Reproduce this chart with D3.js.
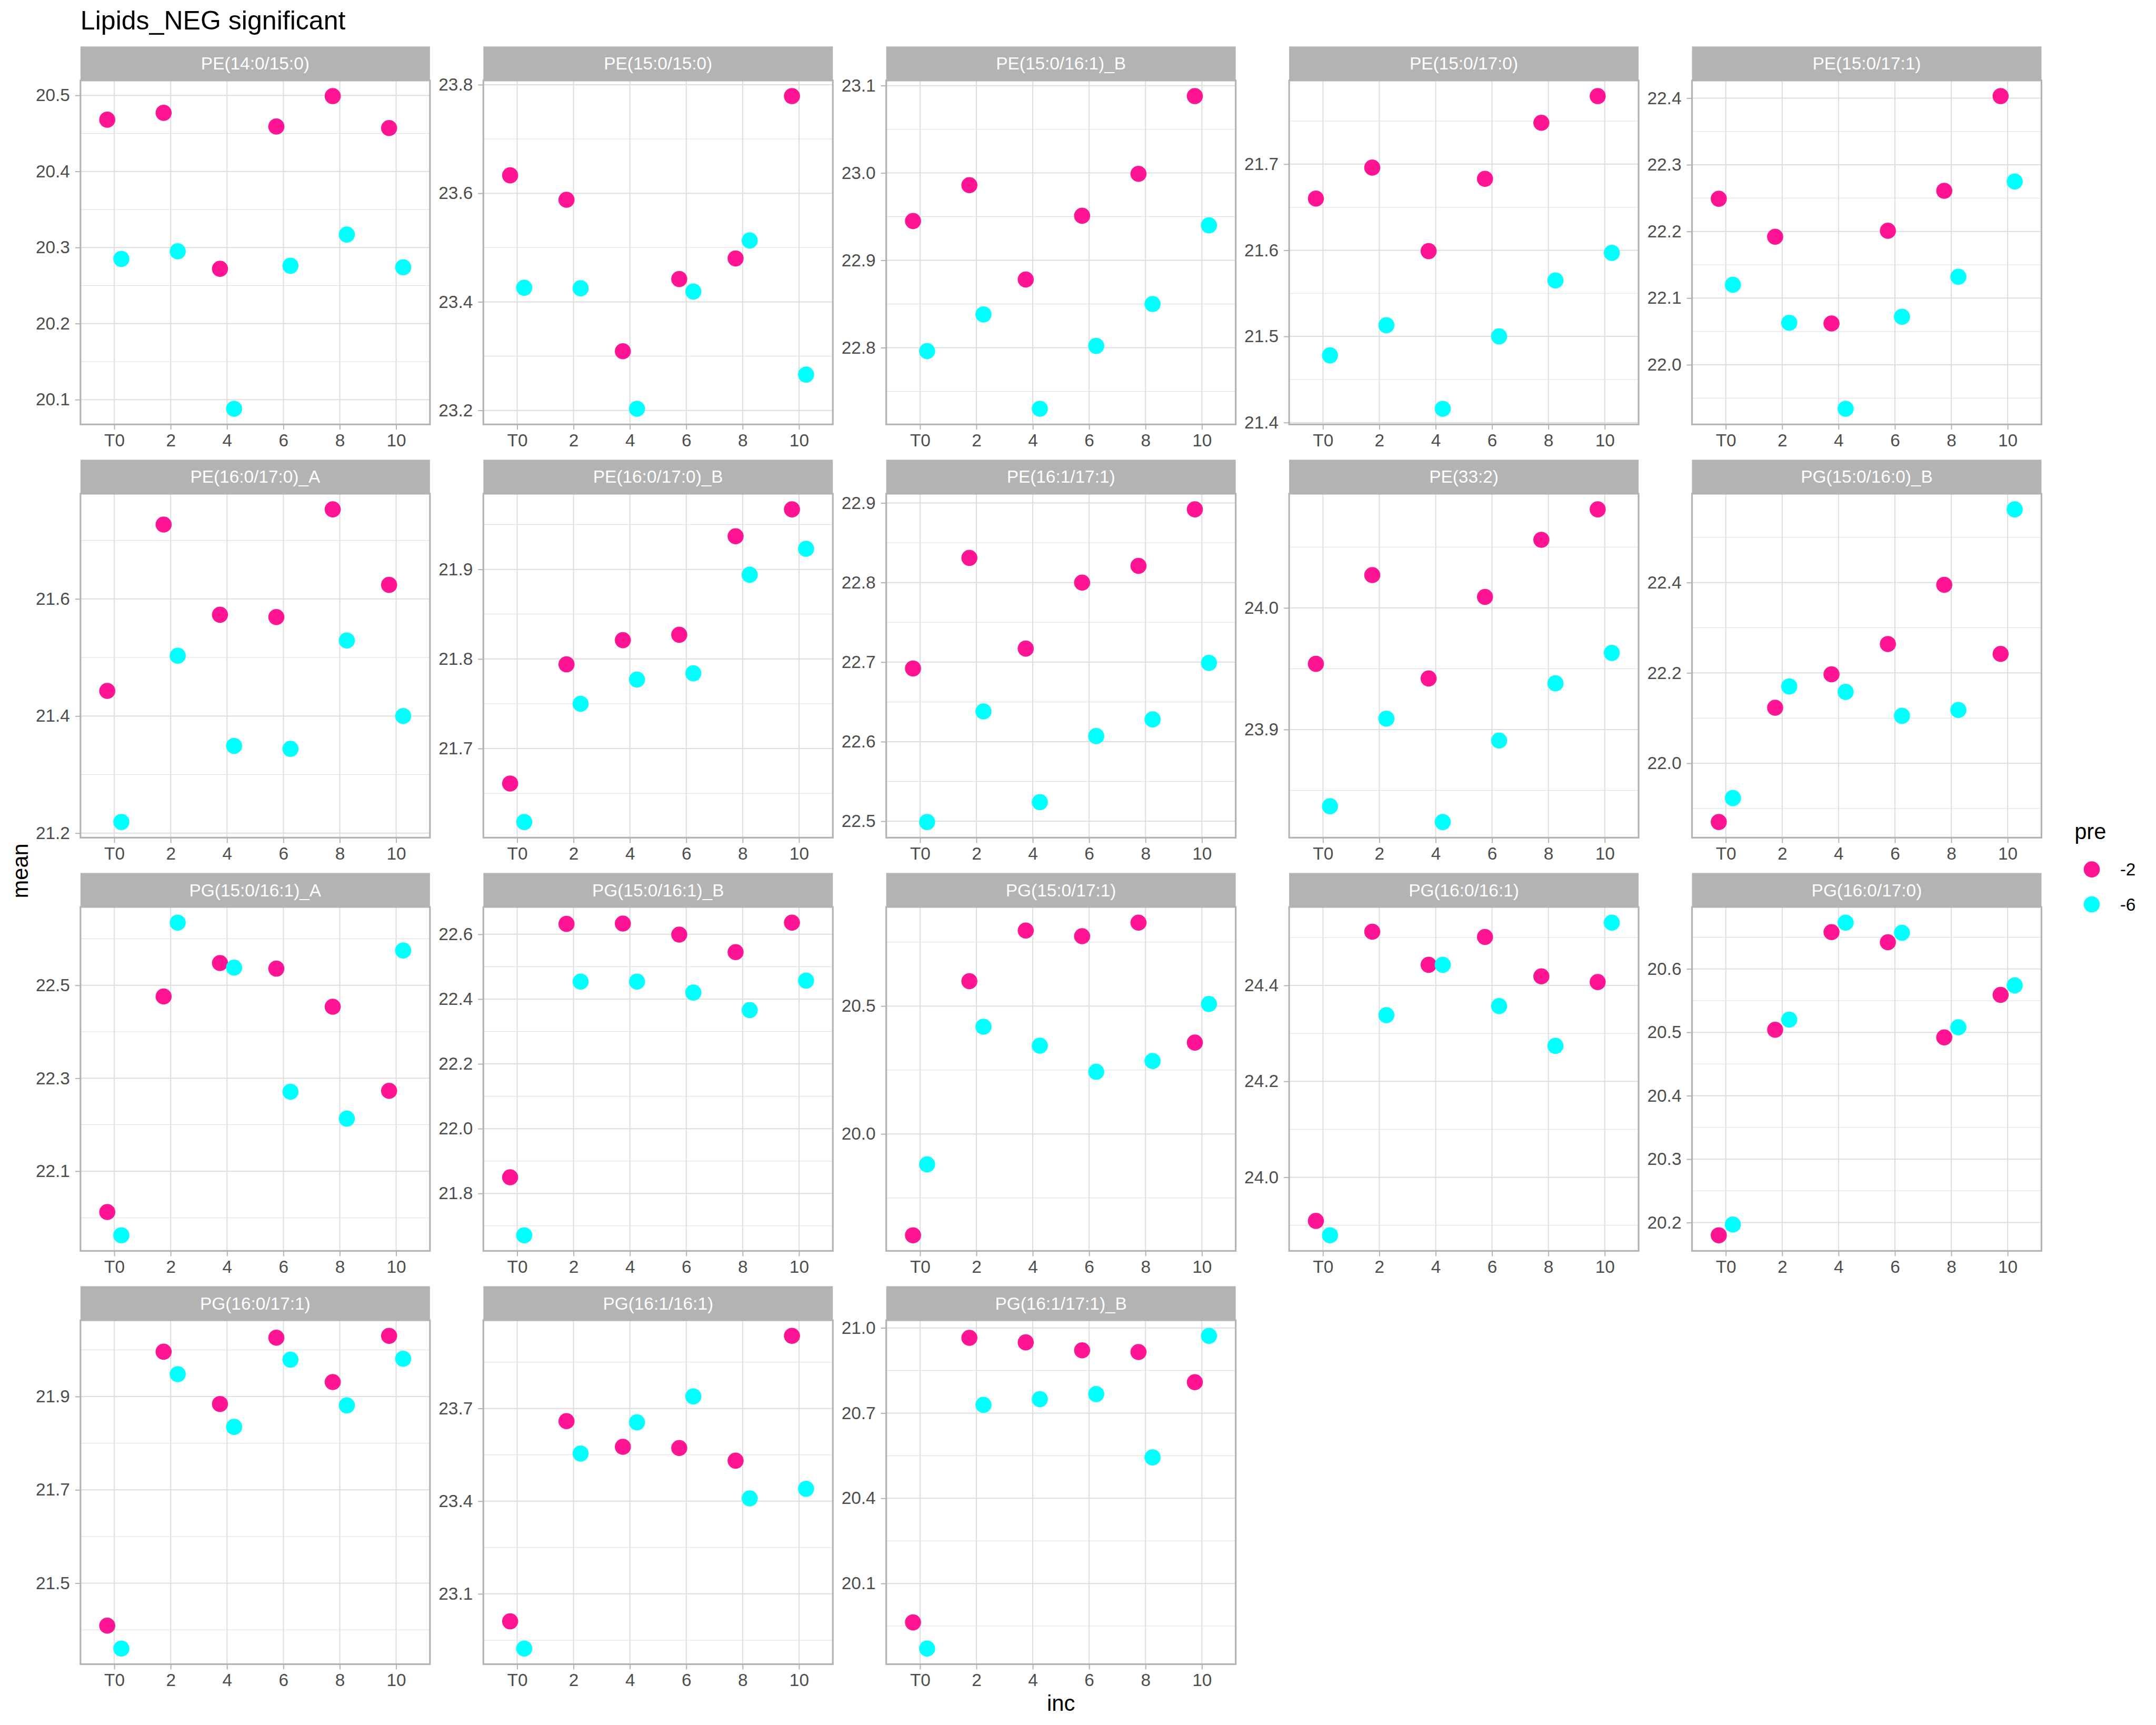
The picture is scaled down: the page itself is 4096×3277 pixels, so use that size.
<!DOCTYPE html>
<html><head><meta charset="utf-8">
<script src="https://cdn.jsdelivr.net/npm/d3@7"></script>
<style>html,body{margin:0;padding:0;background:#fff;} svg{display:block;}</style>
</head><body><svg id="chart" width="4096" height="3277"></svg>
<script>
// ---------- data ----------
const chartTitle = "Lipids_NEG significant";
const xTitle = "inc";
const yTitle = "mean";
const legendTitle = "pre";
const incLevels = ["T0", "2", "4", "6", "8", "10"];
const preLevels = ["-2", "-6"];
const preColors = ["#FF1493", "#00FFFF"];
const lipids = [
  "PE(14:0/15:0)", "PE(15:0/15:0)", "PE(15:0/16:1)_B", "PE(15:0/17:0)", "PE(15:0/17:1)",
  "PE(16:0/17:0)_A", "PE(16:0/17:0)_B", "PE(16:1/17:1)", "PE(33:2)", "PG(15:0/16:0)_B",
  "PG(15:0/16:1)_A", "PG(15:0/16:1)_B", "PG(15:0/17:1)", "PG(16:0/16:1)", "PG(16:0/17:0)",
  "PG(16:0/17:1)", "PG(16:1/16:1)", "PG(16:1/17:1)_B"
];
// mean values for pre = -2 (one row per lipid, columns follow incLevels)
const meanPre2 = [
  [20.468, 20.477, 20.272, 20.459, 20.499, 20.457],
  [23.633, 23.588, 23.309, 23.442, 23.480, 23.779],
  [22.945, 22.986, 22.878, 22.951, 22.999, 23.088],
  [21.660, 21.696, 21.599, 21.683, 21.748, 21.779],
  [22.249, 22.192, 22.062, 22.201, 22.261, 22.403],
  [21.443, 21.727, 21.573, 21.569, 21.753, 21.624],
  [21.661, 21.794, 21.821, 21.827, 21.937, 21.967],
  [22.692, 22.831, 22.717, 22.800, 22.821, 22.892],
  [23.954, 24.027, 23.942, 24.009, 24.056, 24.081],
  [21.870, 22.123, 22.197, 22.264, 22.395, 22.242],
  [22.012, 22.476, 22.548, 22.536, 22.454, 22.273],
  [21.850, 22.632, 22.633, 22.599, 22.545, 22.636],
  [19.604, 20.597, 20.795, 20.773, 20.826, 20.357],
  [23.909, 24.512, 24.443, 24.501, 24.419, 24.407],
  [20.180, 20.504, 20.658, 20.642, 20.492, 20.559],
  [21.409, 21.996, 21.884, 22.026, 21.931, 22.030],
  [23.011, 23.659, 23.576, 23.572, 23.531, 23.935],
  [19.963, 20.965, 20.949, 20.921, 20.915, 20.809]
];
// mean values for pre = -6
const meanPre6 = [
  [20.285, 20.295, 20.088, 20.276, 20.317, 20.274],
  [23.426, 23.425, 23.203, 23.419, 23.513, 23.266],
  [22.796, 22.838, 22.730, 22.802, 22.850, 22.940],
  [21.478, 21.513, 21.416, 21.500, 21.565, 21.597],
  [22.120, 22.063, 21.934, 22.072, 22.132, 22.275],
  [21.219, 21.503, 21.349, 21.344, 21.529, 21.400],
  [21.618, 21.750, 21.777, 21.784, 21.894, 21.923],
  [22.499, 22.638, 22.524, 22.607, 22.628, 22.699],
  [23.837, 23.909, 23.824, 23.891, 23.938, 23.963],
  [21.923, 22.170, 22.158, 22.105, 22.118, 22.562],
  [21.962, 22.635, 22.538, 22.271, 22.213, 22.575],
  [21.671, 22.454, 22.454, 22.420, 22.366, 22.457],
  [19.881, 20.419, 20.345, 20.243, 20.285, 20.508],
  [23.879, 24.338, 24.443, 24.357, 24.274, 24.531],
  [20.197, 20.520, 20.673, 20.657, 20.508, 20.574],
  [21.360, 21.948, 21.835, 21.979, 21.881, 21.981],
  [22.923, 23.554, 23.655, 23.739, 23.409, 23.440],
  [19.871, 20.729, 20.749, 20.767, 20.544, 20.972]
];
// y tick labels per panel
const yTickLabels = [
  ["20.1", "20.2", "20.3", "20.4", "20.5"],
  ["23.2", "23.4", "23.6", "23.8"],
  ["22.8", "22.9", "23.0", "23.1"],
  ["21.4", "21.5", "21.6", "21.7"],
  ["22.0", "22.1", "22.2", "22.3", "22.4"],
  ["21.2", "21.4", "21.6"],
  ["21.7", "21.8", "21.9"],
  ["22.5", "22.6", "22.7", "22.8", "22.9"],
  ["23.9", "24.0"],
  ["22.0", "22.2", "22.4"],
  ["22.1", "22.3", "22.5"],
  ["21.8", "22.0", "22.2", "22.4", "22.6"],
  ["20.0", "20.5"],
  ["24.0", "24.2", "24.4"],
  ["20.2", "20.3", "20.4", "20.5", "20.6"],
  ["21.5", "21.7", "21.9"],
  ["23.1", "23.4", "23.7"],
  ["20.1", "20.4", "20.7", "21.0"]
];

// ---------- drawing ----------
const S = 0.91;
const FONT = "'Liberation Sans', Arial, Helvetica, sans-serif";
const svg = d3.select("#chart");
svg.append("rect").attr("width", 4096).attr("height", 3277).attr("fill", "#fff");
const root = svg.append("g").attr("transform", `scale(${S})`);

// layout in reference (4500 x 3600) units
const L = { left: 168, panelW: 729.6, colGap: 111.5, top: 97, stripH: 71, panelH: 718, rowPitch: 862.7, nCol: 5 };
const GRID = "#DEDEDE", BORDER = "#B3B3B3", AXTXT = "#4D4D4D";
const R = 16.8;

root.append("text").attr("x", 168).attr("y", 62)
  .attr("font-family", FONT).attr("font-size", 55).attr("fill", "#000")
  .text(chartTitle);

lipids.forEach((name, i) => {
  const col = i % L.nCol, row = Math.floor(i / L.nCol);
  const x0 = L.left + col * (L.panelW + L.colGap);
  const y0 = L.top + row * L.rowPitch;
  const py0 = y0 + L.stripH, py1 = py0 + L.panelH;
  const g = root.append("g");

  // strip
  g.append("rect").attr("x", x0).attr("y", y0).attr("width", L.panelW).attr("height", L.stripH).attr("fill", BORDER);
  g.append("text").attr("x", x0 + L.panelW / 2).attr("y", y0 + L.stripH / 2 + 13)
    .attr("text-anchor", "middle").attr("font-family", FONT).attr("font-size", 36.7).attr("fill", "#fff")
    .text(name);

  // scales
  const vals = meanPre2[i].concat(meanPre6[i]);
  const [mn, mx] = d3.extent(vals);
  const pad = (mx - mn) * 0.05;
  const y = d3.scaleLinear().domain([mn - pad, mx + pad]).range([py1, py0]);
  const x = d3.scalePoint().domain(incLevels).range([x0, x0 + L.panelW]).padding(0.6);
  const step = x.step();
  const ticks = yTickLabels[i].map(Number);
  const tStep = ticks[1] - ticks[0];
  const minors = [ticks[0] - tStep / 2];
  ticks.forEach(t => minors.push(t + tStep / 2));
  const dom = y.domain();
  const minorIn = minors.filter(m => m >= dom[0] && m <= dom[1]);

  // background + grid
  g.append("rect").attr("x", x0).attr("y", py0).attr("width", L.panelW).attr("height", L.panelH).attr("fill", "#fff");
  g.selectAll(".mi").data(minorIn).join("line")
    .attr("x1", x0).attr("x2", x0 + L.panelW).attr("y1", d => y(d)).attr("y2", d => y(d))
    .attr("stroke", GRID).attr("stroke-width", 1.1);
  g.selectAll(".ma").data(ticks).join("line")
    .attr("x1", x0).attr("x2", x0 + L.panelW).attr("y1", d => y(d)).attr("y2", d => y(d))
    .attr("stroke", GRID).attr("stroke-width", 2.2);
  g.selectAll(".mx").data(incLevels).join("line")
    .attr("x1", d => x(d)).attr("x2", d => x(d)).attr("y1", py0).attr("y2", py1)
    .attr("stroke", GRID).attr("stroke-width", 2.2);

  // points
  [meanPre2[i], meanPre6[i]].forEach((series, k) => {
    const off = (k === 0 ? -0.125 : 0.125) * step;
    g.selectAll(null).data(series).join("circle")
      .attr("cx", (d, j) => x(incLevels[j]) + off)
      .attr("cy", d => y(d))
      .attr("r", R)
      .attr("fill", preColors[k]);
  });

  // border
  g.append("rect").attr("x", x0).attr("y", py0).attr("width", L.panelW).attr("height", L.panelH)
    .attr("fill", "none").attr("stroke", BORDER).attr("stroke-width", 3.5);

  // axes
  const ya = g.append("g").attr("transform", `translate(${x0},0)`)
    .call(d3.axisLeft(y).tickValues(ticks).tickFormat(d3.format(".1f")).tickSize(11).tickPadding(11));
  const xa = g.append("g").attr("transform", `translate(0,${py1})`)
    .call(d3.axisBottom(x).tickSize(11).tickPadding(9));
  [ya, xa].forEach(a => {
    a.attr("font-family", FONT).attr("font-size", 36.7);
    a.select(".domain").remove();
    a.selectAll(".tick line").attr("stroke", BORDER).attr("stroke-width", 2.2);
    a.selectAll(".tick text").attr("fill", AXTXT);
  });
});

// axis titles
root.append("text").attr("x", 2215).attr("y", 3571).attr("text-anchor", "middle")
  .attr("font-family", FONT).attr("font-size", 45.8).attr("fill", "#000").text(xTitle);
root.append("text").attr("transform", "translate(58,1818) rotate(-90)").attr("text-anchor", "middle")
  .attr("font-family", FONT).attr("font-size", 45.8).attr("fill", "#000").text(yTitle);

// legend
const lg = root.append("g");
lg.append("text").attr("x", 4331).attr("y", 1752).attr("font-family", FONT).attr("font-size", 45.8)
  .attr("fill", "#000").text(legendTitle);
preLevels.forEach((lv, k) => {
  const cy = 1815 + k * 73;
  lg.append("circle").attr("cx", 4367).attr("cy", cy).attr("r", R).attr("fill", preColors[k]);
  lg.append("text").attr("x", 4426).attr("y", cy + 13).attr("font-family", FONT).attr("font-size", 36.7)
    .attr("fill", "#000").text(lv);
});
</script>
</body></html>
